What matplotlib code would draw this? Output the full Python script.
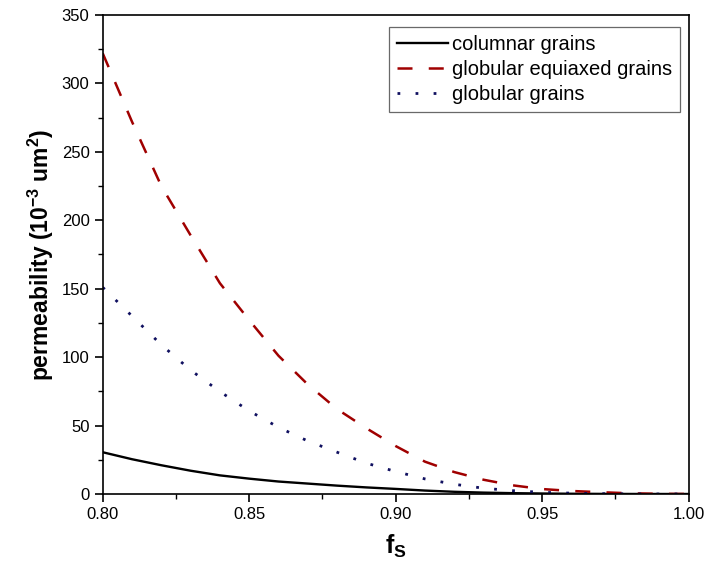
import matplotlib
matplotlib.use("Agg")
import matplotlib.pyplot as plt
from matplotlib.ticker import MultipleLocator

plt.rcParams["font.family"] = ["Liberation Sans", "DejaVu Sans"]
plt.rcParams["mathtext.fontset"] = "custom"
plt.rcParams["mathtext.rm"] = "Liberation Sans"
plt.rcParams["mathtext.bf"] = "Liberation Sans:bold"
plt.rcParams["mathtext.default"] = "bf"

# solid fraction
fs = [0.80, 0.81, 0.82, 0.83, 0.84, 0.85, 0.86, 0.87, 0.88, 0.89, 0.90,
      0.91, 0.92, 0.93, 0.94, 0.95, 0.96, 0.97, 0.98, 0.99, 1.00]

# permeability, 10^-3 um^2
columnar = [30.5, 25.4, 21.0, 17.0, 13.6, 11.2, 9.1, 7.6, 6.1, 4.8, 3.7,
            2.5, 1.6, 1.0, 0.6, 0.35, 0.17, 0.07, 0.02, 0.0, 0.0]
globular_equiaxed = [322, 272, 225, 189, 154, 127, 101, 80, 62, 48, 35,
                     23.6, 16.0, 10.4, 6.3, 3.6, 2.2, 1.3, 0.5, 0.1, 0.0]
globular = [151, 130, 109, 90.5, 74.8, 60.7, 48.7, 38.7, 30.5, 22.5, 16.4,
            11.0, 7.1, 4.2, 2.4, 1.2, 0.6, 0.25, 0.07, 0.01, 0.0]

fig = plt.figure(figsize=(7.05, 5.75), dpi=100)
ax = fig.add_axes([0.1457, 0.1409, 0.8312, 0.833])

ax.plot(fs, columnar, color="black", lw=1.7, label="columnar grains")
ax.plot(fs, globular_equiaxed, color="#a00000", lw=1.8, ls=(0, (6, 6.5)),
        label="globular equiaxed grains")
ax.plot(fs, globular, color="#101060", lw=2.0, ls=(0, (1, 5.5)),
        label="globular grains")

ax.set_xlim(0.80, 1.00)
ax.set_ylim(0, 350)
ax.xaxis.set_major_locator(MultipleLocator(0.05))
ax.xaxis.set_minor_locator(MultipleLocator(0.025))
ax.yaxis.set_major_locator(MultipleLocator(50))
ax.yaxis.set_minor_locator(MultipleLocator(25))
ax.xaxis.set_major_formatter(plt.FormatStrFormatter("%.2f"))
ax.tick_params(which="major", direction="out", length=6, width=1.2,
               labelsize=12, top=False, right=False)
ax.tick_params(which="minor", direction="out", length=3.5, width=1.0,
               top=False, right=False)
for s in ax.spines.values():
    s.set_linewidth(1.2)

ax.set_xlabel("f$_\\mathbf{S}$", fontsize=18, fontweight="bold", labelpad=8)
ax.set_ylabel("permeability (10$^{-3}$ um$^{2}$)",
              fontsize=16.5, fontweight="bold", labelpad=4)

leg = ax.legend(loc="upper right", bbox_to_anchor=(0.985, 0.975),
                fontsize=14.5, frameon=True, fancybox=False,
                handlelength=2.5, handletextpad=0.2, borderpad=0.4,
                labelspacing=0.3, borderaxespad=0)
leg.get_frame().set_edgecolor("#444444")
leg.get_frame().set_linewidth(0.9)

fig.savefig("out.png", dpi=100)
